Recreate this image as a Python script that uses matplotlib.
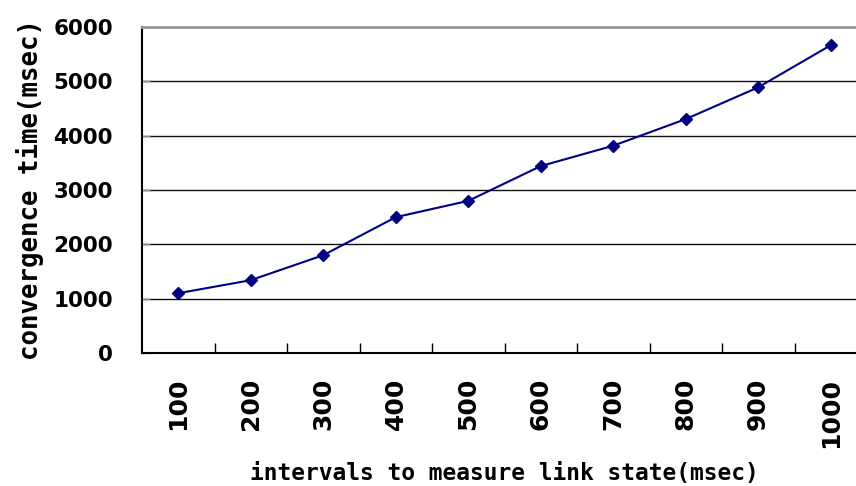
import matplotlib
matplotlib.use("Agg")
import matplotlib.pyplot as plt
from matplotlib.ticker import FixedLocator

categories = ["100", "200", "300", "400", "500", "600", "700", "800", "900", "1000"]
convergence = [1100, 1340, 1800, 2500, 2800, 3440, 3815, 4305, 4890, 5665]
y_ticks = [0, 1000, 2000, 3000, 4000, 5000, 6000]

fig = plt.figure(figsize=(8.56, 4.86), dpi=100)
ax = fig.add_axes([142/856, 1-353/486, 725/856, 326/486])

x = list(range(len(categories)))
ax.plot(x, convergence, color="#000080", lw=1.5, marker="D", markersize=6.5,
        markerfacecolor="#000080", markeredgecolor="#000080", zorder=3)

ax.set_xlim(-0.5, len(categories) - 0.5)
ax.set_ylim(0, 6000)
ax.set_yticks(y_ticks)
ax.set_yticklabels([str(v) for v in y_ticks], fontsize=15.5, fontweight="bold",
                   family="DejaVu Sans")
ax.yaxis.grid(True, color="#111111", lw=1.0)
ax.set_axisbelow(True)

ax.set_xticks(x)
ax.set_xticklabels(categories, rotation=90, fontsize=18, fontweight="bold",
                   family="DejaVu Sans", va="top", ha="center")
ax.tick_params(axis="x", which="major", length=0, pad=18)
ax.xaxis.set_minor_locator(FixedLocator([i + 0.5 for i in range(len(categories) - 1)]))
ax.tick_params(axis="x", which="minor", direction="in", length=7.5, width=1.0, color="black")
ax.tick_params(axis="y", which="major", direction="in", length=6, width=1.0,
               color="#888888", pad=21)

for s in ["left", "bottom"]:
    ax.spines[s].set_color("black")
    ax.spines[s].set_linewidth(1.5)
ax.spines["right"].set_visible(False)
ax.spines["top"].set_color("#999999")
ax.spines["top"].set_linewidth(2)

ax.set_ylabel("convergence time(msec)", fontsize=18.5, fontweight="bold",
              family="DejaVu Sans Mono")
ax.set_xlabel("intervals to measure link state(msec)", fontsize=16.5,
              family="DejaVu Sans Mono", fontweight="bold")
ax.yaxis.set_label_coords(-0.135, 0.5)
ax.xaxis.set_label_coords(0.5, -0.335)

fig.savefig("out.png", dpi=100, facecolor="white")
